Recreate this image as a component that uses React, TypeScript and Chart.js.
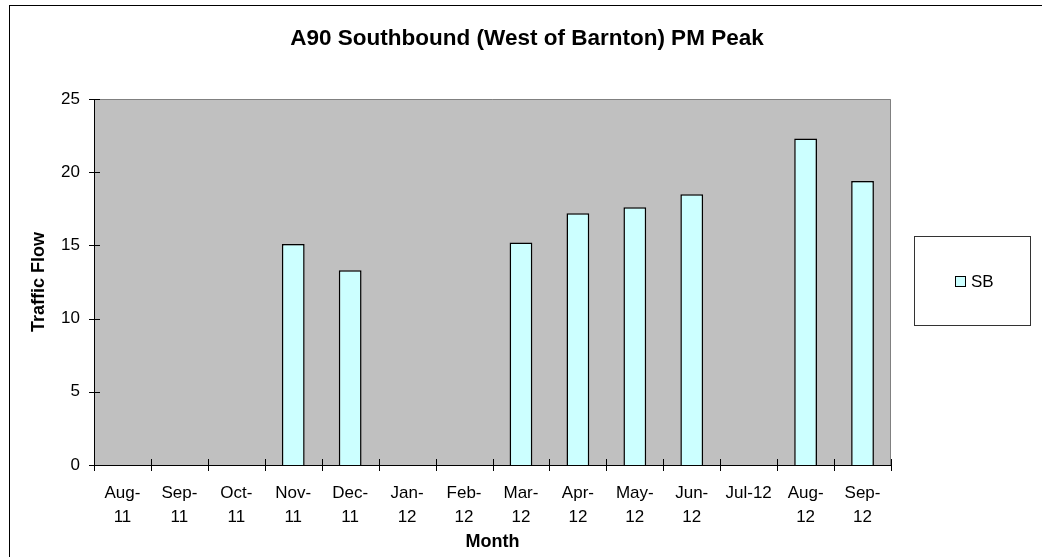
import React, { useEffect, useRef } from 'react';
import { Chart, registerables } from 'chart.js';

Chart.register(...registerables);

const categories = ['Aug-11', 'Sep-11', 'Oct-11', 'Nov-11', 'Dec-11', 'Jan-12', 'Feb-12', 'Mar-12', 'Apr-12', 'May-12', 'Jun-12', 'Jul-12', 'Aug-12', 'Sep-12'];
const tickLabels: string[][] = [
  ['Aug-', '11'], ['Sep-', '11'], ['Oct-', '11'], ['Nov-', '11'], ['Dec-', '11'],
  ['Jan-', '12'], ['Feb-', '12'], ['Mar-', '12'], ['Apr-', '12'], ['May-', '12'],
  ['Jun-', '12'], ['Jul-12'], ['Aug-', '12'], ['Sep-', '12'],
];
const sbValues: (number | null)[] = [null, null, null, 15.1, 13.3, null, null, 15.2, 17.2, 17.6, 18.5, null, 22.3, 19.4];
const yTickValues = [0, 5, 10, 15, 20, 25];
const seriesLabel = 'SB';
const chartTitle = 'A90 Southbound (West of Barnton) PM Peak';
const xAxisTitle = 'Month';
const yAxisTitle = 'Traffic Flow';

const FONT = '"Liberation Sans", Arial, sans-serif';
const BAR_FILL = '#CCFFFF';
const PLOT_BG = '#C0C0C0';

const decorPlugin = {
  id: 'excelDecor',
  beforeDraw(chart: any) {
    const { ctx, chartArea: a, width, height } = chart;
    ctx.save();
    ctx.fillStyle = '#ffffff';
    ctx.fillRect(0, 0, width, height);
    // outer chart frame (extends beyond the picture on right/bottom)
    ctx.strokeStyle = '#000000';
    ctx.lineWidth = 1;
    ctx.strokeRect(9.5, 5.5, width + 20, height + 20);
    // plot area
    ctx.fillStyle = PLOT_BG;
    ctx.fillRect(a.left, a.top, a.right - a.left, a.bottom - a.top);
    ctx.strokeStyle = '#808080';
    ctx.beginPath();
    ctx.moveTo(a.left, a.top + 0.5);
    ctx.lineTo(a.right - 0.5, a.top + 0.5);
    ctx.lineTo(a.right - 0.5, a.bottom);
    ctx.stroke();
    ctx.restore();
  },
  afterDraw(chart: any) {
    const { ctx, chartArea: a } = chart;
    const xs = chart.scales.x;
    const ys = chart.scales.y;
    ctx.save();
    ctx.strokeStyle = '#000000';
    ctx.lineWidth = 1;
    ctx.beginPath();
    // y tick marks crossing axis
    ys.ticks.forEach((t: any, i: number) => {
      const py = Math.round(ys.getPixelForTick(i)) + 0.5;
      ctx.moveTo(a.left - 5, py);
      ctx.lineTo(a.left + 6, py);
    });
    // x tick marks at category boundaries, crossing axis
    const n = categories.length;
    const step = (a.right - a.left) / n;
    for (let i = 0; i <= n; i++) {
      const px = Math.round(xs.getPixelForValue(0) - step / 2 + i * step) + 0.5;
      ctx.moveTo(px, a.bottom - 6);
      ctx.lineTo(px, a.bottom + 6);
    }
    ctx.stroke();

    // title
    ctx.fillStyle = '#000000';
    ctx.font = `bold 22.5px ${FONT}`;
    ctx.textAlign = 'center';
    ctx.textBaseline = 'alphabetic';
    ctx.fillText(chartTitle, 527, 45);

    // legend
    const ds = chart.data.datasets[0];
    const lx = a.right + 23;
    const ly = 236;
    ctx.strokeStyle = '#333333';
    ctx.strokeRect(lx + 0.5, ly + 0.5, 116, 89);
    ctx.fillStyle = ds.backgroundColor;
    ctx.fillRect(lx + 41, ly + 40, 10, 10);
    ctx.strokeStyle = '#000000';
    ctx.strokeRect(lx + 41.5, ly + 40.5, 10, 10);
    ctx.fillStyle = '#000000';
    ctx.font = `17px ${FONT}`;
    ctx.textAlign = 'left';
    ctx.textBaseline = 'middle';
    ctx.fillText(ds.label, lx + 57, ly + 46);
    ctx.restore();
  },
};

export default function App() {
  const canvasRef = useRef<HTMLCanvasElement | null>(null);

  useEffect(() => {
    if (!canvasRef.current) return;
    const chart = new Chart(canvasRef.current, {
      type: 'bar',
      data: {
        labels: categories,
        datasets: [
          {
            label: seriesLabel,
            data: sbValues,
            backgroundColor: BAR_FILL,
            borderColor: '#000000',
            borderWidth: 1.5,
            barPercentage: 0.8,
            categoryPercentage: 0.5,
          },
        ],
      },
      options: {
        responsive: false,
        animation: false,
        devicePixelRatio: 1,
        layout: { padding: { left: 24, right: 151, top: 99, bottom: 0 } },
        plugins: {
          legend: { display: false },
          title: { display: false },
          tooltip: { enabled: false },
        },
        scales: {
          x: {
            type: 'category',
            grid: { display: false, drawTicks: false },
            border: { display: true, color: '#000000', width: 1 },
            ticks: {
              autoSkip: false,
              maxRotation: 0,
              minRotation: 0,
              padding: 16,
              color: '#000000',
              font: { family: FONT, size: 17, lineHeight: 1.41 },
              callback: (_v: any, i: number) => tickLabels[i],
            },
            title: {
              display: true,
              text: xAxisTitle,
              color: '#000000',
              font: { family: FONT, size: 18, weight: 'bold', lineHeight: 1.2 },
              padding: { top: 0, bottom: 4 },
            },
            afterFit: (s: any) => { s.height = 92; },
          },
          y: {
            min: 0,
            max: 25,
            afterBuildTicks: (s: any) => { s.ticks = yTickValues.map((v) => ({ value: v })); },
            grid: { display: false, drawTicks: false },
            border: { display: true, color: '#000000', width: 1 },
            ticks: {
              padding: 14,
              color: '#000000',
              font: { family: FONT, size: 17 },
            },
            title: {
              display: true,
              text: yAxisTitle,
              color: '#000000',
              font: { family: FONT, size: 18, weight: 'bold', lineHeight: 1.2 },
              padding: { top: 4, bottom: 0 },
            },
            afterFit: (s: any) => { s.width = 70; },
          },
        },
      },
      plugins: [decorPlugin],
    } as any);
    return () => chart.destroy();
  }, []);

  return (
    <div style={{ position: 'absolute', left: 0, top: 0, width: 1042, height: 557 }}>
      <canvas ref={canvasRef} width={1042} height={557} style={{ width: 1042, height: 557, display: 'block' }} />
    </div>
  );
}
